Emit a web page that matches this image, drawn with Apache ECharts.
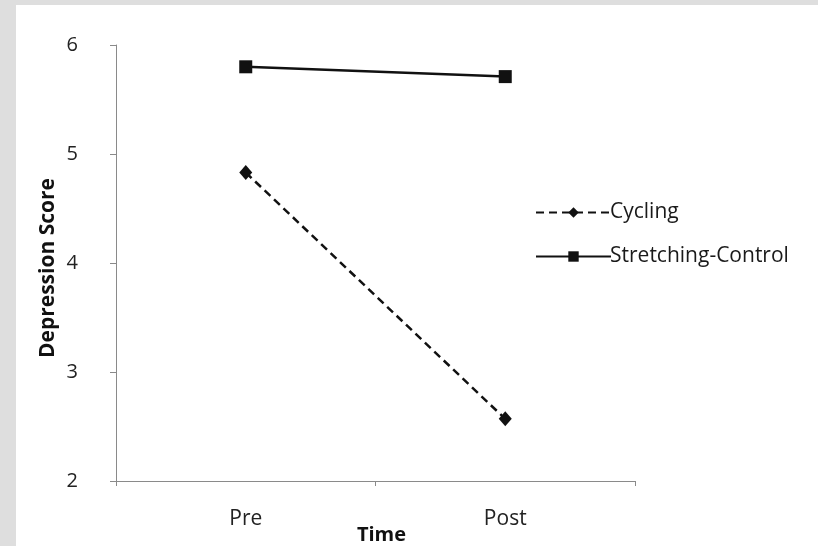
<!DOCTYPE html>
<html>
<head>
<meta charset="utf-8">
<script src="https://cdn.jsdelivr.net/npm/echarts@6/dist/echarts.min.js"></script>
<style>
  html, body { margin: 0; padding: 0; background: #dedede; }
  #chart { width: 818px; height: 546px; }
</style>
</head>
<body>
<div id="chart"></div>
<script>
const categories = ['Pre', 'Post'];
const cycling = [4.83, 2.57];
const stretching = [5.80, 5.71];
const yTicks = [2, 3, 4, 5, 6];

const font = '"Open Sans", "Liberation Sans", sans-serif';
const chart = echarts.init(document.getElementById('chart'));
chart.setOption({
  backgroundColor: '#dedede',
  animation: false,
  graphic: [{
    type: 'rect', z: -10, silent: true,
    shape: { x: 16, y: 5, width: 802, height: 541 },
    style: { fill: '#ffffff' }
  }],
  grid: { left: 116, right: 183, top: 45, bottom: 65, outerBoundsMode: 'none', containLabel: false },
  legend: {
    orient: 'vertical',
    left: 530, top: 197,
    itemWidth: 75, itemHeight: 13, itemGap: 23,
    textStyle: { fontFamily: font, fontSize: 21, color: '#1a1a1a', padding: [0, 0, 0, -6] },
    data: [
      { name: 'Cycling' },
      { name: 'Stretching-Control' }
    ]
  },
  xAxis: {
    type: 'category',
    data: categories,
    boundaryGap: true,
    name: 'Time',
    nameLocation: 'middle',
    nameGap: 44,
    nameMoveOverlap: false,
    nameTextStyle: { fontFamily: font, fontSize: 20, fontWeight: 'bold', color: '#111', padding: [0, 0, 0, 12] },
    axisLine: { lineStyle: { color: '#8a8a8a', width: 1 } },
    axisTick: { show: true, length: 5, inside: false, lineStyle: { color: '#8a8a8a' } },
    axisLabel: { fontFamily: font, fontSize: 21, color: '#222', margin: 28 }
  },
  yAxis: {
    type: 'value',
    min: yTicks[0], max: yTicks[yTicks.length - 1], interval: 1,
    name: 'Depression Score',
    nameLocation: 'middle',
    nameGap: 57,
    nameMoveOverlap: false,
    nameTextStyle: { fontFamily: font, fontSize: 21, fontWeight: 'bold', color: '#111', padding: [0, 10, 0, 0] },
    axisLine: { show: true, lineStyle: { color: '#8a8a8a', width: 1 } },
    axisTick: { show: true, length: 6, lineStyle: { color: '#8a8a8a' } },
    splitLine: { show: false },
    axisLabel: { fontFamily: font, fontSize: 20, color: '#222', margin: 38 }
  },
  series: [
    {
      name: 'Cycling', type: 'line', data: cycling,
      symbol: 'diamond', symbolSize: [13, 15],
      lineStyle: { color: '#111', width: 2.5, type: [8, 5] },
      itemStyle: { color: '#111' }
    },
    {
      name: 'Stretching-Control', type: 'line', data: stretching,
      symbol: 'rect', symbolSize: 13,
      lineStyle: { color: '#111', width: 2.5, type: 'solid' },
      itemStyle: { color: '#111' }
    }
  ]
});
</script>
</body>
</html>
